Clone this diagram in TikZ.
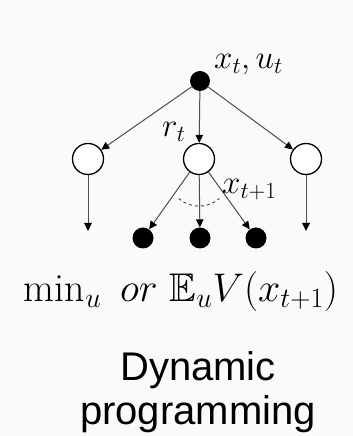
\RequirePackage{fix-cm}
\documentclass[tikz,border=0pt]{standalone}
\usepackage{amsmath,amssymb}
\usepackage{fontspec}
\newfontfamily\captionfont{Liberation Sans}
\usetikzlibrary{arrows.meta,positioning}

\begin{document}
\begin{tikzpicture}[
  x=1pt, y=1pt,
  every node/.style={inner sep=0pt},
  statenode/.style={circle, fill=black, minimum size=20pt},
  chancenode/.style={circle, draw, line width=1.3pt, fill=white, minimum size=31pt},
  leafnode/.style={circle, fill=black, minimum size=21pt},
  edge/.style={black!70, line width=1pt,
               -{Triangle[width=7.5pt, length=8pt, black]}},
  mathlbl/.style={anchor=west, font=\fontsize{33}{36}\selectfont},
]

%% ---- Canvas -------------------------------------------------------
\fill[black!2] (0,0) rectangle (353,436);
\useasboundingbox (0,0) rectangle (353,436);

%% ---- Tree nodes ---------------------------------------------------
\node[statenode]  (root)  at (200,355) {};
\node[chancenode] (left)  at (88,277)  {};
\node[chancenode] (mid)   at (199,277) {};
\node[chancenode] (right) at (306,277) {};
\node[leafnode]   (leafA) at (143,198) {};
\node[leafnode]   (leafB) at (200,198) {};
\node[leafnode]   (leafC) at (256,198) {};
\coordinate (leftEnd)  at (88,205);
\coordinate (rightEnd) at (306,205);

%% ---- Connectors ---------------------------------------------------
\draw[edge] (root) -- (left);
\draw[edge] (root) -- (mid);
\draw[edge] (root) -- (right);
\draw[edge] (left)  -- (leftEnd);
\draw[edge] (right) -- (rightEnd);
\draw[edge] (mid) -- (leafA);
\draw[edge] (mid) -- (leafB);
\draw[edge] (mid) -- (leafC);

% expectation arc under the chance node
\draw[black!70, dashed, line width=1pt]
     ([shift={(229:31pt)}]mid.south) arc[start angle=229, end angle=311, radius=31pt];

%% ---- Labels -------------------------------------------------------
\node[mathlbl] (lblRoot) at (214,371) {$x_t, u_t$};
\node[mathlbl] (lblR)    at (162,304) {$r_t$};
\node[mathlbl] (lblNext) at (222,246) {$x_{t+1}$};

\node[font=\fontsize{40}{44}\selectfont] (lblValue) at (181,144)
     {$\min_u\ or\ \mathbb{E}_u V(x_{t+1})$};

\node[font=\captionfont\fontsize{40}{44}\selectfont, align=center] (lblTitle) at (198,44)
     {Dynamic\\programming};

\end{tikzpicture}
\end{document}
